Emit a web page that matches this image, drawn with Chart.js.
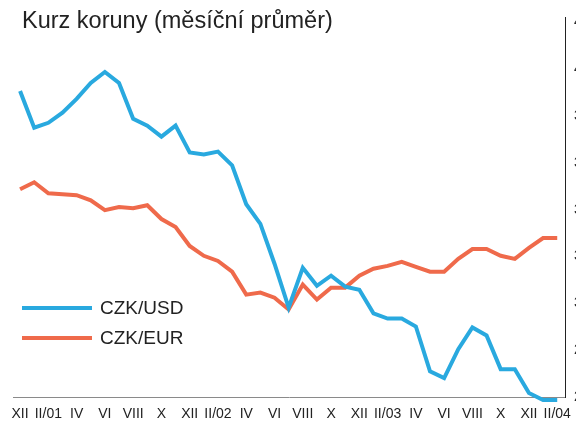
<!DOCTYPE html>
<html>
<head>
<meta charset="utf-8">
<script src="https://cdn.jsdelivr.net/npm/chart.js@4/dist/chart.umd.min.js"></script>
<style>
html,body{margin:0;padding:0;background:#fff;overflow:hidden;width:576px;height:428px;}
canvas{display:block;}
</style>
</head>
<body>
<canvas id="c" width="600" height="428"></canvas>
<script>
const titleText = "Kurz koruny (měsíční průměr)";
const tickLabels = ["XII","II/01","IV","VI","VIII","X","XII","II/02","IV","VI","VIII","X","XII","II/03","IV","VI","VIII","X","XII","II/04"];
const seriesNames = ["CZK/USD","CZK/EUR"];
const czkUsd = [39.07,37.50,37.71,38.14,38.73,39.41,39.88,39.41,37.88,37.59,37.12,37.59,36.44,36.36,36.48,35.89,34.23,33.39,31.69,29.82,31.52,30.75,31.18,30.71,30.58,29.57,29.35,29.35,29.01,27.10,26.81,28.04,28.97,28.63,27.19,27.19,26.17,25.87,25.87];
const czkEur = [34.87,35.17,34.70,34.66,34.62,34.40,33.98,34.11,34.06,34.19,33.60,33.26,32.45,32.03,31.81,31.35,30.37,30.46,30.24,29.74,30.80,30.16,30.67,30.67,31.18,31.48,31.60,31.77,31.56,31.35,31.35,31.90,32.32,32.32,32.03,31.90,32.37,32.79,32.79];
const yTicks = [26,28,30,32,34,36,38,40,42];

const FONT = "'Liberation Sans', Arial, Helvetica, sans-serif";
const colors = ["#29a9df","#ef6a4b"];

const toPts = arr => arr.map((v,i)=>({x:i,y:v}));

const overlay = {
  id:'overlay',
  afterDraw(chart){
    const ctx = chart.ctx;
    ctx.save();
    ctx.fillStyle = '#222';
    ctx.font = "23.5px " + FONT;
    ctx.textBaseline = 'alphabetic';
    ctx.textAlign = 'left';
    ctx.fillText(titleText, 22, 28);
    const ys = [308, 338];
    chart.data.datasets.forEach((ds, k) => {
      ctx.strokeStyle = ds.borderColor;
      ctx.lineWidth = 4;
      ctx.beginPath();
      ctx.moveTo(22, ys[k]);
      ctx.lineTo(92, ys[k]);
      ctx.stroke();
      ctx.fillStyle = '#222';
      ctx.font = "19px " + FONT;
      ctx.textBaseline = 'middle';
      ctx.fillText(ds.label, 100, ys[k] + 1);
    });
    ctx.restore();
  }
};

new Chart(document.getElementById('c'), {
  type: 'line',
  data: {
    datasets: [
      {label: seriesNames[0], data: toPts(czkUsd), borderColor: colors[0], backgroundColor: colors[0], borderWidth: 4, pointRadius: 0, tension: 0, clip: false},
      {label: seriesNames[1], data: toPts(czkEur), borderColor: colors[1], backgroundColor: colors[1], borderWidth: 4, pointRadius: 0, tension: 0, clip: false}
    ]
  },
  options: {
    responsive: false,
    animation: false,
    devicePixelRatio: 1,
    layout: {padding: {top: 15, left: 13, right: 0, bottom: 0}},
    plugins: {legend: {display: false}, tooltip: {enabled: false}, title: {display: false}},
    scales: {
      x: {
        type: 'linear',
        min: -0.5,
        max: 38.55,
        afterBuildTicks(axis){ axis.ticks = tickLabels.map((t,i)=>({value: i*2})); },
        afterFit(axis){ axis.height = 31; },
        grid: {display: false, drawTicks: false},
        border: {display: true, color: '#8a8a8a', width: 1},
        ticks: {
          autoSkip: false,
          maxRotation: 0,
          padding: 9,
          color: '#222',
          font: {family: FONT, size: 14},
          callback(value){ const k = Math.round(value/2); return tickLabels[k] !== undefined ? tickLabels[k] : ''; }
        }
      },
      y: {
        position: 'right',
        min: yTicks[0],
        max: 42.21,
        afterBuildTicks(axis){ axis.ticks = yTicks.map(v=>({value:v})); },
        afterFit(axis){ axis.width = 35; },
        grid: {display: false, drawTicks: false},
        border: {display: true, color: '#222', width: 1},
        ticks: {padding: 9, color: '#222', font: {family: FONT, size: 14}}
      }
    }
  },
  plugins: [overlay]
});
</script>
</body>
</html>
